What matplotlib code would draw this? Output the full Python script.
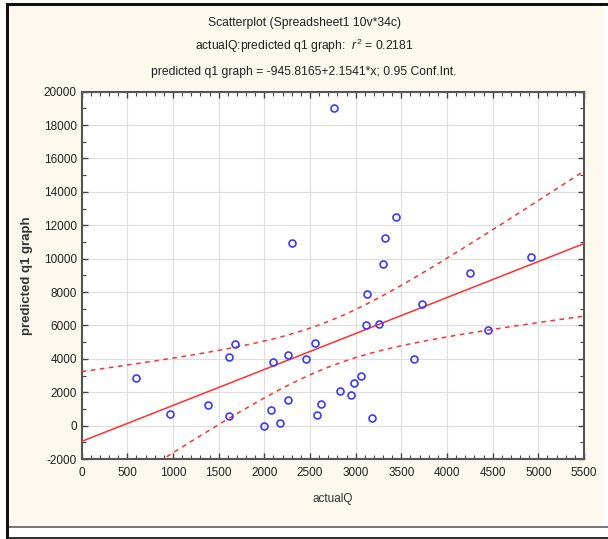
import numpy as np
import matplotlib
matplotlib.use('Agg')
import matplotlib.pyplot as plt
from matplotlib import font_manager
from matplotlib.patches import Rectangle
from matplotlib.ticker import MultipleLocator

# 34 cases: actualQ vs predicted q1 graph
actual_q = [595, 970, 1386, 1609, 1682, 1609, 1996, 2076, 2098, 2168,
            2262, 2262, 2456, 2554, 2573, 2620, 2832, 2949, 2978, 3062,
            3182, 3113, 3255, 3124, 3642, 3726, 4255, 4449, 2759, 2299,
            3438, 3321, 3299, 4923]
predicted_q1 = [2850, 695, 1234, 4090, 4887, 593, 0, 916, 3827, 138,
                4228, 1552, 3970, 4947, 653, 1294, 2080, 1815, 2533, 2990,
                455, 6043, 6103, 7881, 3970, 7283, 9139, 5707, 19003, 10918,
                12493, 11254, 9696, 10080]

intercept = -945.8165
slope = 2.1541
r_squared = 0.2181
t_crit = 2.0369  # t(0.975, df=32)

names = {f.name for f in font_manager.fontManager.ttflist}
narrow = 'Liberation Sans Narrow' if 'Liberation Sans Narrow' in names else 'Liberation Sans'
title_size = 9.5 if narrow == 'Liberation Sans Narrow' else 8.7
plt.rcParams['font.family'] = ['Liberation Sans', 'DejaVu Sans']
plt.rcParams['axes.unicode_minus'] = False
plt.rcParams['mathtext.fontset'] = 'custom'
plt.rcParams['mathtext.rm'] = narrow
plt.rcParams['mathtext.it'] = narrow + ':italic'

W, H = 608, 539
fig = plt.figure(figsize=(W / 100, H / 100), dpi=100, facecolor='white')


def px_rect(x0, y0, x1, y1, color):
    fig.add_artist(Rectangle((x0 / W, 1 - y1 / H), (x1 - x0) / W, (y1 - y0) / H,
                             transform=fig.transFigure, facecolor=color,
                             edgecolor='none', zorder=-5))


# window frame
px_rect(9, 6, 603, 526, '#fdf9ee')
px_rect(6, 3, 9, 539, '#111111')
px_rect(6, 3, 608, 6, '#111111')
px_rect(9, 526, 608, 527.5, '#777777')
px_rect(9, 537, 608, 539, '#333333')

ax = fig.add_axes([81.7 / W, 1 - 459 / H, (584 - 81.7) / W, (459 - 91.7) / H])
ax.set_facecolor('white')

x = np.array(actual_q, dtype=float)
y = np.array(predicted_q1, dtype=float)
n = len(x)
resid = y - (intercept + slope * x)
s = np.sqrt(np.sum(resid ** 2) / (n - 2))
sxx = np.sum((x - x.mean()) ** 2)

xs = np.linspace(0, 5500, 200)
fit = intercept + slope * xs
half = t_crit * s * np.sqrt(1 / n + (xs - x.mean()) ** 2 / sxx)

ax.plot(xs, fit, color='#ff3030', lw=1.1, zorder=3)
ax.plot(xs, fit + half, color='#ff3030', lw=1.1, ls=(0, (3, 3)), zorder=3)
ax.plot(xs, fit - half, color='#ff3030', lw=1.1, ls=(0, (3, 3)), zorder=3)
ax.plot(x, y, ls='none', marker='o', markersize=5, markerfacecolor='none',
        markeredgecolor='#3a3aff', markeredgewidth=1.2, zorder=4)

ax.set_xlim(0, 5500)
ax.set_ylim(-2000, 20000)
ax.xaxis.set_major_locator(MultipleLocator(500))
ax.xaxis.set_minor_locator(MultipleLocator(100))
ax.yaxis.set_major_locator(MultipleLocator(2000))
ax.yaxis.set_minor_locator(MultipleLocator(1000))
ax.grid(True, which='major', color='#dedede', lw=0.8)
ax.set_axisbelow(True)
ax.tick_params(which='both', direction='in', top=True, right=True,
               colors='#444444', labelcolor='#222222', labelsize=8.5)
ax.tick_params(which='major', length=4, width=1)
ax.tick_params(which='minor', length=3, width=0.8)
ax.tick_params(axis='x', pad=6)
for side in ax.spines.values():
    side.set_color('#555555')
    side.set_linewidth(1.5)

ax.set_xlabel('actualQ', fontsize=8.5, color='#333333', labelpad=10)
ax.set_ylabel('predicted q1 graph', fontsize=9.5, fontweight='bold',
              color='#333333', labelpad=8)

fig.text(0.5, 1 - 23 / H, 'Scatterplot (Spreadsheet1 10v*34c)', ha='center',
         va='center', fontsize=title_size, family=narrow, color='#222222')
fig.text(0.5, 1 - 46 / H, 'actualQ:predicted q1 graph:  $r^2$ = %.4f' % r_squared,
         ha='center', va='center', fontsize=title_size, family=narrow, color='#222222')
fig.text(0.5, 1 - 72 / H,
         'predicted q1 graph = %.4f+%.4f*x; 0.95 Conf.Int.' % (intercept, slope),
         ha='center', va='center', fontsize=title_size, family=narrow, color='#222222')

fig.savefig('out.png', dpi=100, facecolor='white')
